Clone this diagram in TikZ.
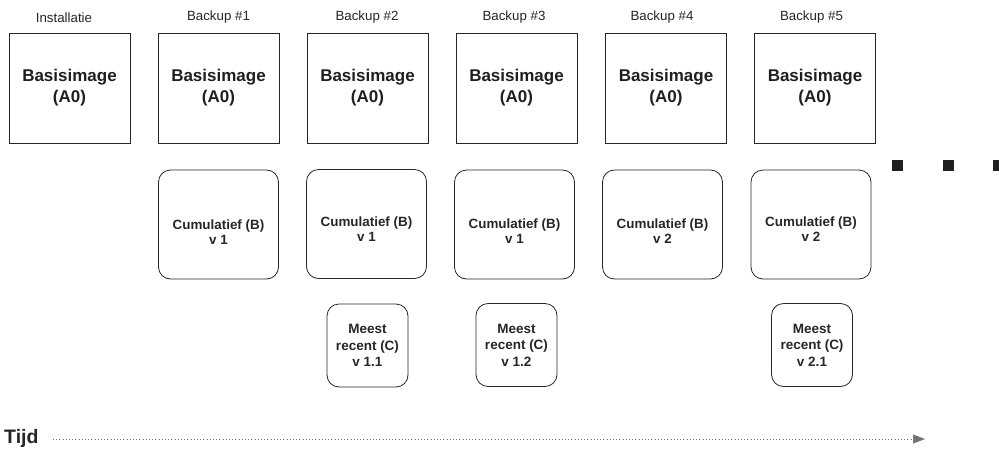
\documentclass[tikz,border=0pt]{standalone}
\usepackage{fontspec}
\setmainfont{Liberation Sans}
\usetikzlibrary{arrows.meta,calc}
\tikzset{
  basebox/.style={draw=black!85, line width=0.8pt, minimum width=121pt, minimum height=110pt, inner sep=0pt, align=center, font=\fontsize{17}{21}\selectfont\bfseries, text=black!88},
  cumbox/.style={draw=black!85, line width=0.8pt, rounded corners=12pt, minimum width=120pt, minimum height=109pt, inner sep=0pt},
  cumtext/.style={inner sep=0pt, align=center, font=\fontsize{13.4}{15.5}\selectfont\bfseries, text=black!85},
  recbox/.style={draw=black!85, line width=0.8pt, rounded corners=12pt, minimum width=81pt, minimum height=83pt, inner sep=0pt, align=center, font=\fontsize{13.5}{16.5}\selectfont\bfseries, text=black!85},
  toplabel/.style={inner sep=0pt, font=\fontsize{13.3}{15}\selectfont, text=black!85},
  dotsq/.style={fill=black!88, minimum size=11pt, inner sep=0pt},
  timeline/.style={draw=black!55, line width=0.7pt, dash pattern=on 1pt off 2.2pt, -{Triangle[length=12pt,width=9pt]}}
}
\begin{document}
\begin{tikzpicture}[x=1pt,y=-1pt]
\useasboundingbox (0,0) rectangle (999,448);
% top labels
\node[toplabel] (l0) at (64,17.5) {Installatie};
\node[toplabel] (l1) at (218.5,17.5) {Backup \#1};
\node[toplabel] (l2) at (367,17.5) {Backup \#2};
\node[toplabel] (l3) at (514,17.5) {Backup \#3};
\node[toplabel] (l4) at (662,17.5) {Backup \#4};
\node[toplabel] (l5) at (811.5,17.5) {Backup \#5};
% base images
\node[basebox] (a0) at (69.5,88) {Basisimage\\(A0)};
\node[basebox] (a1) at (218.5,88) {Basisimage\\(A0)};
\node[basebox] (a2) at (367.5,88) {Basisimage\\(A0)};
\node[basebox] (a3) at (516.5,88) {Basisimage\\(A0)};
\node[basebox] (a4) at (666,88) {Basisimage\\(A0)};
\node[basebox] (a5) at (815,88) {Basisimage\\(A0)};
% cumulative
\node[cumbox] (b1) at (218.5,224.5) {};
\node[cumbox] (b2) at (366.5,224) {};
\node[cumbox] (b3) at (514.5,224.5) {};
\node[cumbox] (b4) at (662.5,224.5) {};
\node[cumbox] (b5) at (811,224.5) {};
\node[cumtext] (b1t) at (218.5,232) {Cumulatief (B)\\v 1};
\node[cumtext] (b2t) at (366.5,229) {Cumulatief (B)\\v 1};
\node[cumtext] (b3t) at (514.5,231) {Cumulatief (B)\\v 1};
\node[cumtext] (b4t) at (662.5,231) {Cumulatief (B)\\v 2};
\node[cumtext] (b5t) at (811,229) {Cumulatief (B)\\v 2};
% most recent
\node[recbox] (c2) at (367.5,345.5) {Meest\\recent (C)\\v 1.1};
\node[recbox] (c3) at (516.5,345) {Meest\\recent (C)\\v 1.2};
\node[recbox] (c5) at (812,345) {Meest\\recent (C)\\v 2.1};
% continuation dots
\node[dotsq] (d1) at (897.5,165) {};
\node[dotsq] (d2) at (948,165) {};
\node[dotsq] (d3) at (998.5,165) {};
% time axis
\node[inner sep=0pt, anchor=base west, font=\fontsize{19.5}{22}\selectfont\bfseries, text=black!85] (tijd) at (4,443) {Tijd};
\coordinate (ts) at (53,439);
\coordinate (te) at (925,439);
\draw[timeline] (ts) -- (te);
\end{tikzpicture}
\end{document}
